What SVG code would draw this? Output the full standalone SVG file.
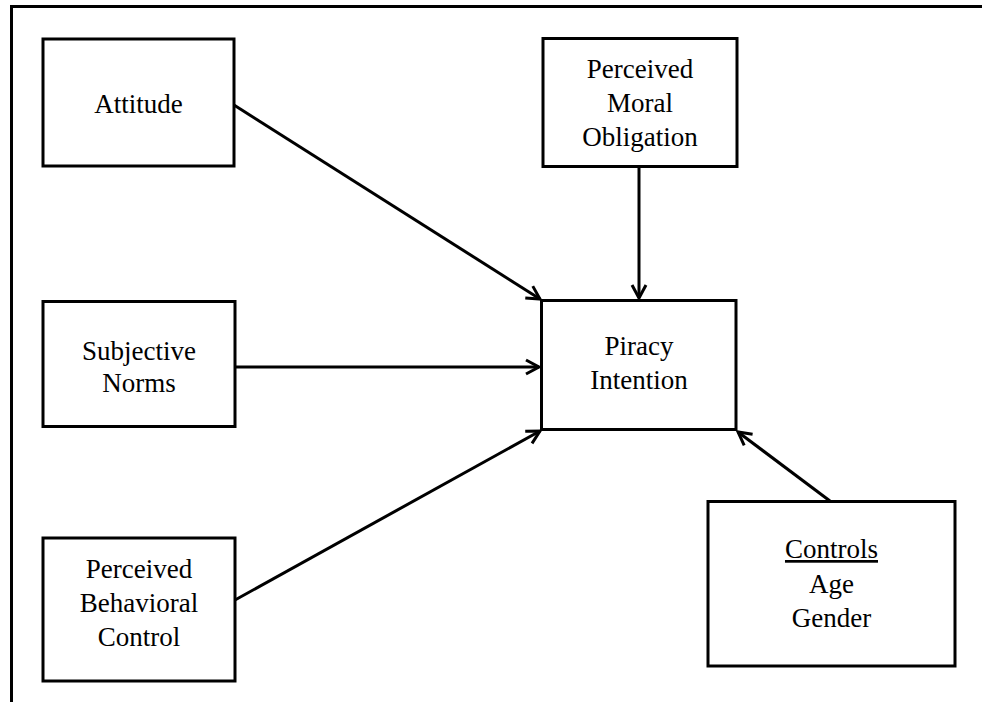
<svg xmlns="http://www.w3.org/2000/svg" width="982" height="702" viewBox="0 0 982 702">
  <style>
    .box { fill: #ffffff; stroke: #000000; stroke-width: 3; }
    .frame { fill: none; stroke: #000000; stroke-width: 3; }
    .edge { fill: none; stroke: #000000; stroke-width: 3; marker-end: url(#arrow); }
    .label { font-family: "Liberation Serif", "Times New Roman", serif; font-size: 27px; fill: #000000; text-anchor: middle; }
  </style>
  <defs>
    <marker id="arrow" markerUnits="userSpaceOnUse" markerWidth="20" markerHeight="20" viewBox="-16 -10 20 20" refX="0" refY="0" orient="auto">
      <path d="M-13,-7 L0,0 L-13,7" fill="none" stroke="#000000" stroke-width="3" stroke-linejoin="miter"/>
    </marker>
  </defs>

  <rect width="982" height="702" fill="#ffffff"/>

  <!-- page frame: top and left rules -->
  <path class="frame" d="M11.5,702 L11.5,6.5 L982,6.5"/>

  <g id="connectors">
    <line class="edge" x1="234" y1="105" x2="540" y2="299"/>
    <line class="edge" x1="639" y1="167" x2="639" y2="298"/>
    <line class="edge" x1="235" y1="367" x2="539" y2="367"/>
    <line class="edge" x1="235" y1="600" x2="540" y2="431"/>
    <line class="edge" x1="830" y1="501" x2="738" y2="432"/>
  </g>

  <g id="attitude">
    <rect class="box" x="43" y="39" width="191" height="127"/>
    <text class="label" x="138.5" y="113">Attitude</text>
  </g>

  <g id="moral-obligation">
    <rect class="box" x="543" y="38.5" width="194" height="128"/>
    <text class="label" x="640" y="78">Perceived</text>
    <text class="label" x="640" y="112">Moral</text>
    <text class="label" x="640" y="146">Obligation</text>
  </g>

  <g id="subjective-norms">
    <rect class="box" x="43" y="301.5" width="192" height="125"/>
    <text class="label" x="139" y="360">Subjective</text>
    <text class="label" x="139" y="392">Norms</text>
  </g>

  <g id="piracy-intention">
    <rect class="box" x="541.5" y="300.5" width="194.5" height="129"/>
    <text class="label" x="639" y="355">Piracy</text>
    <text class="label" x="639" y="389">Intention</text>
  </g>

  <g id="behavioral-control">
    <rect class="box" x="43" y="538" width="192" height="143"/>
    <text class="label" x="139" y="578">Perceived</text>
    <text class="label" x="139" y="612">Behavioral</text>
    <text class="label" x="139" y="646">Control</text>
  </g>

  <g id="controls">
    <rect class="box" x="708" y="501.5" width="247" height="164.5"/>
    <text class="label" x="831.5" y="558" text-decoration="underline">Controls</text>
    <text class="label" x="831.5" y="593">Age</text>
    <text class="label" x="831.5" y="627">Gender</text>
  </g>
</svg>
